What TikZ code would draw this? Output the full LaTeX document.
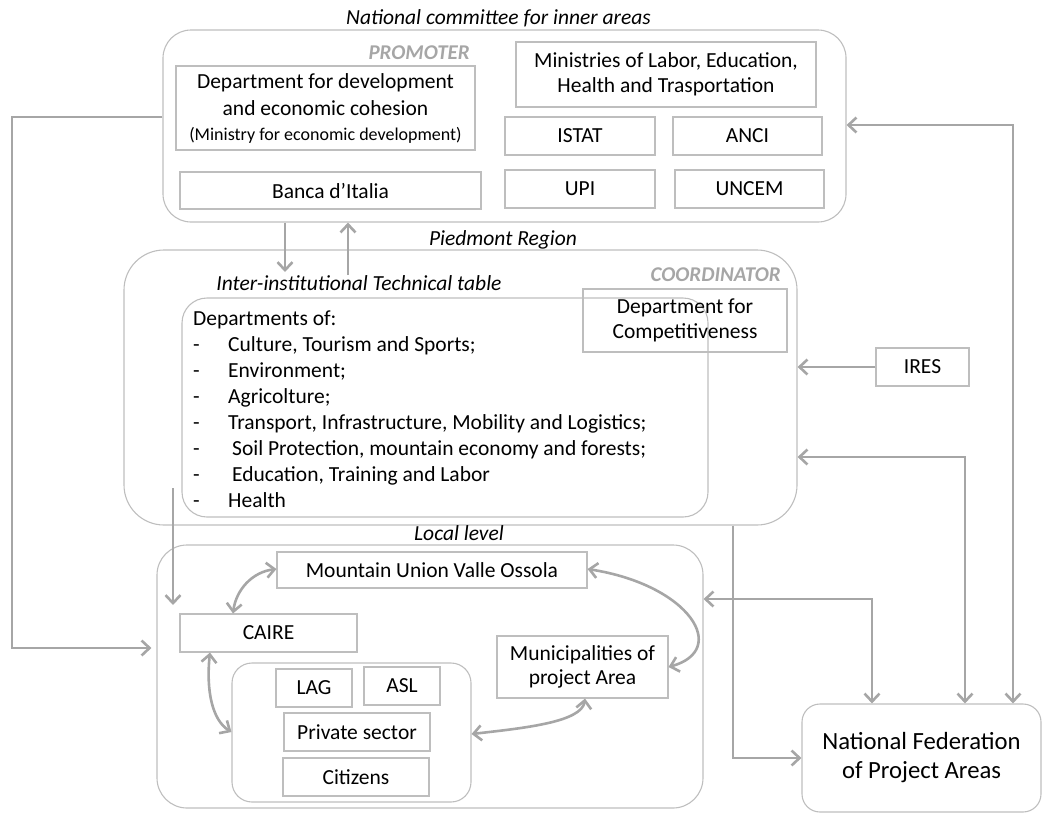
\documentclass[tikz,border=0pt]{standalone}
\usepackage{fontspec}
\setmainfont{Carlito}
\usetikzlibrary{arrows.meta, positioning, calc}

\definecolor{boxgray}{RGB}{190,190,190}
\definecolor{linkgray}{RGB}{166,166,166}

\begin{document}
\begin{tikzpicture}[x=1pt, y=-1pt, font=\fontsize{21.5}{24.5}\selectfont,
          groupbox/.style={rectangle, draw=boxgray, line width=1.1pt, rounded corners=#1, inner sep=0pt, align=center},
          orgbox/.style={rectangle, draw=boxgray, line width=1.1pt, inner sep=1pt, align=center},
          heading/.style={font=\fontsize{21.5}{24}\selectfont\itshape, inner sep=0pt},
          rolelabel/.style={font=\fontsize{21}{24}\selectfont\bfseries\itshape, text=linkgray, anchor=east, inner sep=0pt},
          link/.style={draw=linkgray, line width=2.6pt},
          >={Straight Barb[length=8pt, width=15pt]}]

        \useasboundingbox (0,0) rectangle (1043,814);

        % the four levels
        \node [groupbox=28pt, minimum width=683pt, minimum height=192pt] (natbox) at (504.5,126) {};
        \node [groupbox=40pt, minimum width=673pt, minimum height=275pt] (piebox) at (460.5,387.5) {};
        \node [groupbox=25pt, minimum width=526pt, minimum height=219pt] (techbox) at (445,407.5) {};
        \node [groupbox=30pt, minimum width=546pt, minimum height=263pt] (localbox) at (430,676.5) {};
        \node [groupbox=20pt, minimum width=239pt, minimum height=139pt] (actorbox) at (351.5,732.5) {};
        \node [groupbox=18pt, minimum width=239pt, minimum height=108pt, font=\fontsize{24.7}{29}\selectfont] (fedbox) at (921.5,758) {National Federation\\of Project Areas};

        \node [heading] (nattitle) at (498.5,18) {National committee for inner areas};
        \node [rolelabel] (promoter) at (470,53) {PROMOTER};
        \node [heading] (pietitle) at (503,240) {Piedmont Region};
        \node [rolelabel] (coordinator) at (781,275) {COORDINATOR};
        \node [heading] (techtitle) at (359,283) {Inter-institutional Technical table};
        \node [heading] (localtitle) at (459,533) {Local level};

        % national committee
        \node [orgbox, minimum width=299pt, minimum height=84pt] (devdept) at (325.5,108) {Department for development\\[3pt]and economic cohesion\\{\fontsize{18}{19}\selectfont (Ministry for economic development)}};
        \node [orgbox, minimum width=301pt, minimum height=37pt] (banca) at (330.5,190.5) {Banca d’Italia};
        \node [orgbox, minimum width=300pt, minimum height=65pt] (minis) at (666,74.5) {Ministries of Labor, Education,\\Health and Trasportation};
        \node [orgbox, minimum width=150pt, minimum height=38pt] (istat) at (580,136) {ISTAT};
        \node [orgbox, minimum width=149pt, minimum height=38pt] (anci) at (747.5,136) {ANCI};
        \node [orgbox, minimum width=150pt, minimum height=38pt] (upi) at (580,189) {UPI};
        \node [orgbox, minimum width=149pt, minimum height=38pt] (uncem) at (749.5,189) {UNCEM};

        % piedmont region
        \node [orgbox, minimum width=204pt, minimum height=63pt] (compet) at (685,320.5) {Department for\\Competitiveness};
        \node [anchor=north west, inner sep=0pt, align=left, font=\fontsize{21.5}{25.9}\selectfont] (deptlist) at (193,311) {Departments of:\\
          \makebox[35pt][l]{-}Culture, Tourism and Sports;\\
          \makebox[35pt][l]{-}Environment;\\
          \makebox[35pt][l]{-}Agricolture;\\
          \makebox[35pt][l]{-}Transport, Infrastructure, Mobility and Logistics;\\
          \makebox[39pt][l]{-}Soil Protection, mountain economy and forests;\\
          \makebox[39pt][l]{-}Education, Training and Labor\\
          \makebox[35pt][l]{-}Health};
        \node [orgbox, minimum width=93pt, minimum height=38pt] (ires) at (922.5,367) {IRES};

        % local level
        \node [orgbox, minimum width=310pt, minimum height=36pt] (mount) at (432,570) {Mountain Union Valle Ossola};
        \node [orgbox, minimum width=177pt, minimum height=38pt] (caire) at (268.5,633) {CAIRE};
        \node [orgbox, minimum width=171pt, minimum height=62pt] (munic) at (582.5,667) {Municipalities of\\project Area};
        \node [orgbox, minimum width=76pt, minimum height=38pt] (lag) at (314,688) {LAG};
        \node [orgbox, minimum width=76pt, minimum height=38pt] (asl) at (402,686) {ASL};
        \node [orgbox, minimum width=146pt, minimum height=38pt] (priv) at (357,732) {Private sector};
        \node [orgbox, minimum width=146pt, minimum height=38pt] (citiz) at (356,777) {Citizens};

        \coordinate (tabletop) at (285,272);
        \coordinate (tablerise) at (348,275);
        \coordinate (techout) at (173,488);
        \coordinate (cairein) at (173,605);

        % connectors
        \draw [link, ->] (natbox.south -| tabletop) -- (tabletop);
        \draw [link, ->] (tablerise) -- (natbox.south -| tablerise);
        \draw [link, ->, shorten >=5pt] (natbox.west |- 0,117) -| (12,648) -- (localbox.west |- 0,648);
        \draw [link, ->] (techout) -- (cairein);
        \draw [link, ->] (ires.west) -- (piebox.east |- ires.west);
        \draw [link, <->] (natbox.east |- 0,125) -| (fedbox.north -| 1013,0);
        \draw [link, <->] (piebox.east |- 0,457) -| (fedbox.north -| 965,0);
        \draw [link, <->] (localbox.east |- 0,599) -| (fedbox.north -| 872,0);
        \draw [link, ->] (piebox.south -| 733,0) |- (fedbox.west |- 0,758);
        \draw [link, <->] (caire.north -| 233,0) .. controls (236,590) and (252,572) .. (mount.west |- 0,569);
        \draw [link, <->] (caire.south -| 210,0) .. controls (206,690) and (212,720) .. (actorbox.west |- 0,732);
        \draw [link, <->] (mount.east |- 0,569) .. controls (690,585) and (730,650) .. (munic.east);
        \draw [link, <->] (munic.south -| 585,0) .. controls (582,722) and (525,728) .. (actorbox.east |- 0,734);
      \end{tikzpicture}
\end{document}
